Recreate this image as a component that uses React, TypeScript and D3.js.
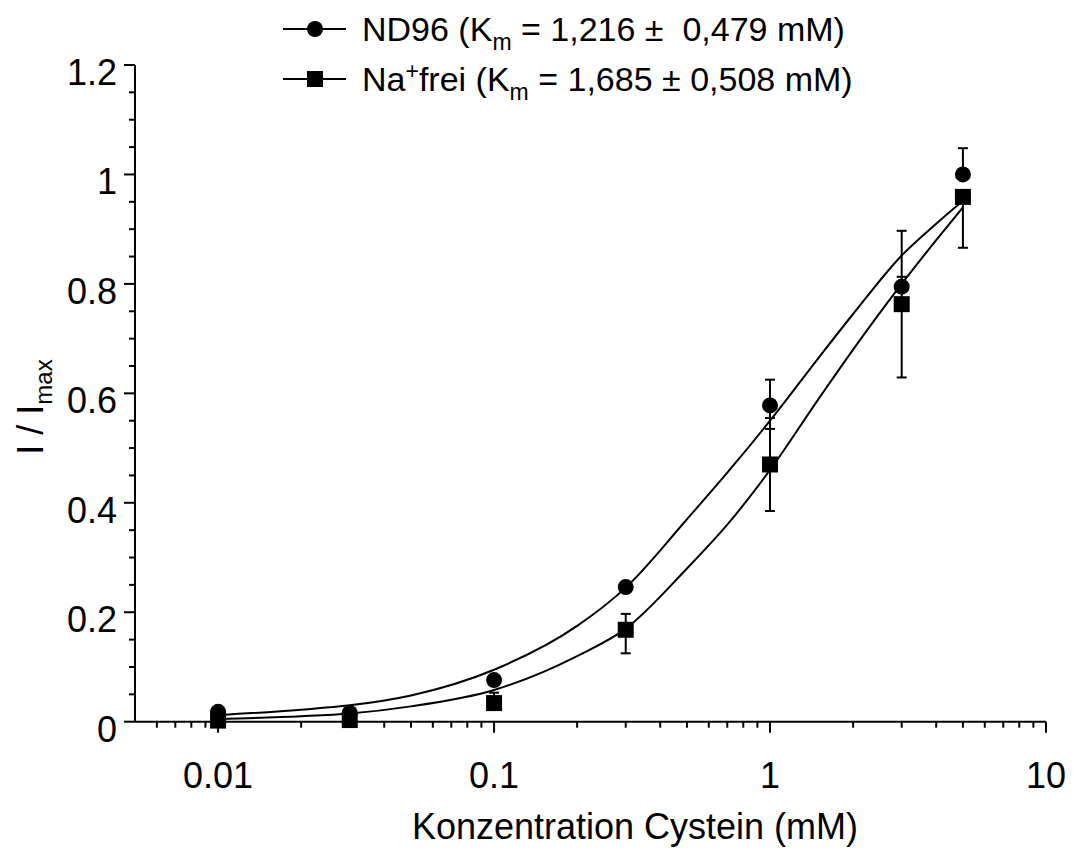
import React from "react";
import * as d3 from "d3";

const concentrations = [0.01, 0.03, 0.1, 0.3, 1, 3, 5];

const nd96Values = [0.018, 0.016, 0.076, 0.246, 0.578, 0.795, 1.0];
const nd96Upper: (number | null)[] = [null, null, null, null, 0.625, 0.897, 1.048];
const nd96Lower: (number | null)[] = [null, null, null, null, 0.535, null, null];

const naFreiValues = [0.002, 0.003, 0.034, 0.168, 0.47, 0.763, 0.959];
const naFreiUpper: (number | null)[] = [null, null, 0.053, 0.197, 0.555, 0.813, null];
const naFreiLower: (number | null)[] = [null, null, null, 0.125, 0.385, 0.629, 0.866];

const fitX = [0.01, 0.02, 0.03, 0.05, 0.1, 0.2, 0.3, 0.5, 0.7, 1, 1.5, 2, 3, 4, 5];
const nd96Fit = [0.012, 0.022, 0.03, 0.048, 0.095, 0.175, 0.245, 0.37, 0.455, 0.55, 0.665, 0.745, 0.852, 0.91, 0.952];
const naFreiFit = [0.005, 0.01, 0.015, 0.028, 0.058, 0.12, 0.17, 0.28, 0.36, 0.46, 0.59, 0.68, 0.8, 0.88, 0.94];

const xMajorTicks = [0.01, 0.1, 1, 10];
const xTickLabels = ["0.01", "0.1", "1", "10"];
const yMajorTicks = [0, 0.2, 0.4, 0.6, 0.8, 1, 1.2];
const yTickLabels = ["0", "0.2", "0.4", "0.6", "0.8", "1", "1.2"];

const FONT = "'Liberation Sans', Arial, sans-serif";

export default function App() {
  const x = d3.scaleLog().domain([0.005, 10]).range([135, 1046]);
  const y = d3.scaleLinear().domain([0, 1.2]).range([721.7, 65]);

  const xMinor: number[] = [];
  for (const dec of [0.001, 0.01, 0.1, 1]) {
    for (let k = 2; k <= 9; k++) {
      const v = dec * k;
      if (v > 0.005 && v < 10 && !xMajorTicks.includes(v)) xMinor.push(v);
    }
  }
  const yMinor = d3.range(0, 1.2001, 0.05).filter((v) => Math.abs(v / 0.2 - Math.round(v / 0.2)) > 1e-6);

  const line = d3
    .line<[number, number]>()
    .x((d) => x(d[0]))
    .y((d) => y(d[1]))
    .curve(d3.curveMonotoneX);

  const nd96Path = line(fitX.map((v, i) => [v, nd96Fit[i]]) as [number, number][]) || "";
  const naPath = line(fitX.map((v, i) => [v, naFreiFit[i]]) as [number, number][]) || "";

  const errBars = (upper: (number | null)[], lower: (number | null)[], vals: number[], key: string) =>
    concentrations.map((c, i) => {
      const els: React.ReactNode[] = [];
      const cx = x(c);
      if (upper[i] != null) {
        els.push(<line key={`${key}u${i}`} x1={cx} x2={cx} y1={y(vals[i])} y2={y(upper[i] as number)} stroke="#000" strokeWidth={2} />);
        els.push(<line key={`${key}uc${i}`} x1={cx - 5} x2={cx + 5} y1={y(upper[i] as number)} y2={y(upper[i] as number)} stroke="#000" strokeWidth={2} />);
      }
      if (lower[i] != null) {
        els.push(<line key={`${key}l${i}`} x1={cx} x2={cx} y1={y(vals[i])} y2={y(lower[i] as number)} stroke="#000" strokeWidth={2} />);
        els.push(<line key={`${key}lc${i}`} x1={cx - 5} x2={cx + 5} y1={y(lower[i] as number)} y2={y(lower[i] as number)} stroke="#000" strokeWidth={2} />);
      }
      return els;
    });

  return (
    <svg width={1074} height={849} style={{ position: "absolute", left: 0, top: 0, background: "#fff" }} fontFamily={FONT}>
      <rect x={0} y={0} width={1074} height={849} fill="#fff" />
      {/* Legend */}
      <g>
        <line x1={283} x2={346} y1={29} y2={29} stroke="#000" strokeWidth={2} />
        <circle cx={315} cy={29} r={8} fill="#000" />
        <text x={362} y={41} fontSize={34} fill="#000" style={{ whiteSpace: "pre" }}>
          ND96 (K<tspan fontSize={23} dy={9}>m</tspan>
          <tspan dy={-9}>{" = 1,216 ±  0,479 mM)"}</tspan>
        </text>
        <line x1={283} x2={346} y1={79} y2={79} stroke="#000" strokeWidth={2} />
        <rect x={307} y={71} width={16} height={16} fill="#000" />
        <text x={362} y={91} fontSize={34} fill="#000" style={{ whiteSpace: "pre" }}>
          Na<tspan fontSize={23} dy={-12}>+</tspan>
          <tspan dy={12}>frei (K</tspan>
          <tspan fontSize={23} dy={9}>m</tspan>
          <tspan dy={-9}>{" = 1,685 ± 0,508 mM)"}</tspan>
        </text>
      </g>

      {/* Axes */}
      <line x1={135} x2={135} y1={y(1.2)} y2={y(0)} stroke="#000" strokeWidth={2} />
      <line x1={135} x2={1046} y1={y(0)} y2={y(0)} stroke="#000" strokeWidth={2} />
      {yMajorTicks.map((t, i) => (
        <g key={`ym${i}`}>
          <line x1={124} x2={135} y1={y(t)} y2={y(t)} stroke="#000" strokeWidth={2} />
          <text x={117} y={y(t) + 20} fontSize={36} textAnchor="end" fill="#000">
            {yTickLabels[i]}
          </text>
        </g>
      ))}
      {yMinor.map((t, i) => (
        <line key={`yn${i}`} x1={129} x2={135} y1={y(t)} y2={y(t)} stroke="#000" strokeWidth={2} />
      ))}
      {xMajorTicks.map((t, i) => (
        <g key={`xm${i}`}>
          <line x1={x(t)} x2={x(t)} y1={y(0)} y2={y(0) + 11} stroke="#000" strokeWidth={2} />
          <text x={x(t)} y={788} fontSize={36} textAnchor="middle" fill="#000">
            {xTickLabels[i]}
          </text>
        </g>
      ))}
      {xMinor.map((t, i) => (
        <line key={`xn${i}`} x1={x(t)} x2={x(t)} y1={y(0)} y2={y(0) + 6} stroke="#000" strokeWidth={2} />
      ))}

      {/* Axis titles */}
      <text x={635} y={839} fontSize={36} textAnchor="middle" fill="#000">
        Konzentration Cystein (mM)
      </text>
      <text transform="translate(43,407) rotate(-90)" fontSize={36} textAnchor="middle" fill="#000">
        I / I<tspan fontSize={24} dy={9}>max</tspan>
      </text>

      {/* Fit curves */}
      <path d={nd96Path} fill="none" stroke="#000" strokeWidth={2} />
      <path d={naPath} fill="none" stroke="#000" strokeWidth={2} />

      {/* Error bars */}
      {errBars(nd96Upper, nd96Lower, nd96Values, "nd")}
      {errBars(naFreiUpper, naFreiLower, naFreiValues, "na")}

      {/* Markers */}
      {concentrations.map((c, i) => (
        <circle key={`c${i}`} cx={x(c)} cy={y(nd96Values[i])} r={8} fill="#000" />
      ))}
      {concentrations.map((c, i) => (
        <rect key={`s${i}`} x={x(c) - 8} y={y(naFreiValues[i]) - 8} width={16} height={16} fill="#000" />
      ))}
    </svg>
  );
}
